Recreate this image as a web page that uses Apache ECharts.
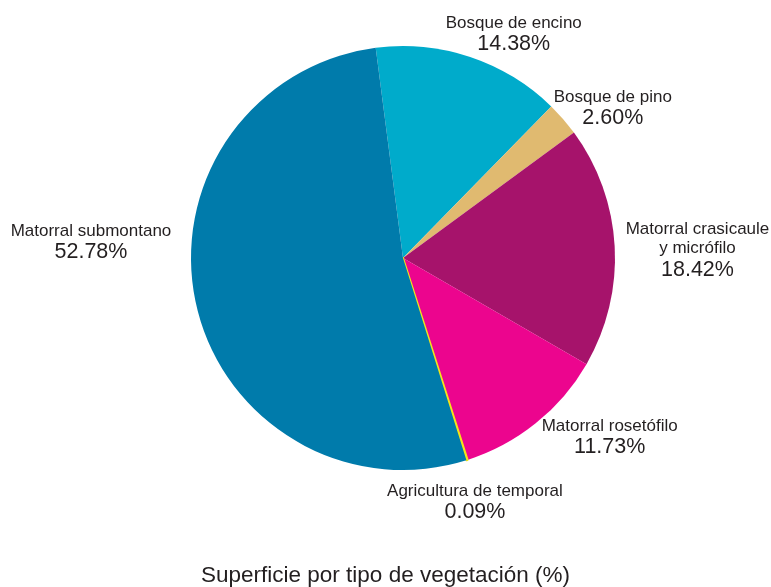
<!DOCTYPE html>
<html>
<head>
<meta charset="utf-8">
<script src="https://cdn.jsdelivr.net/npm/echarts@6/dist/echarts.min.js"></script>
<style>
    html, body { margin: 0; padding: 0; background: #fff; }
    #echt-pie { width: 771px; height: 587px; }
</style>
</head>
<body>
<div id="echt-pie"></div>
<script>
// 数据
var category_names = [
    'Bosque de encino',
    'Bosque de pino',
    'Matorral crasicaule\ny micrófilo',
    'Matorral rosetófilo',
    'Agricultura de temporal',
    'Matorral submontano'
];
var category_values = [14.38, 2.60, 18.42, 11.73, 0.09, 52.78];
var category_colors = ['#00abcb', '#e0ba70', '#a6136b', '#ec058e', '#f2e51a', '#007bab'];
var chart_title = 'Superficie por tipo de vegetación (%)';

var Page = {

    font: "'Liberation Sans', Arial, sans-serif",
    text_color: '#231f20',

    pie_center: [403, 258],
    pie_radius: 212,
    start_angle: 97.4,
    label_gap: 15,

    /* 标签微调 (相对于径向位置) */
    label_offsets: [[32, 12], [15, 20], [-4, 9], [48, -17], [-3, 8], [-10, -82]],

    init: function () {
        this.draw_chart();
    },

    // 扇区中间角度 (度, 从顶部顺时针)
    mid_angle: function (idx) {
        var total = 0, before = 0;
        for (var i = 0; i < category_values.length; i++) {
            total += category_values[i];
            if (i < idx) before += category_values[i];
        }
        var a0 = 90 - this.start_angle;
        return a0 + (before + category_values[idx] / 2) / total * 360;
    },

    draw_chart: function () {
        var that = this;
        var my_chart = echarts.init(document.getElementById('echt-pie'));

        var series_data = [];
        for (var j = 0; j < category_names.length; j++) {
            var item = {
                name: category_names[j],
                value: category_values[j],
                itemStyle: { color: category_colors[j] }
            };
            if (category_values[j] < 1) {
                item.itemStyle.borderColor = category_colors[j];
                item.itemStyle.borderWidth = 2;
            }
            series_data.push(item);
        }

        var option = {
            animation: false,
            title: {
                text: chart_title,
                left: 'center',
                top: 559,
                textStyle: {
                    fontFamily: that.font,
                    fontSize: 22.5,
                    fontWeight: 'normal',
                    color: that.text_color
                }
            },
            series: [{
                type: 'pie',
                center: that.pie_center,
                radius: that.pie_radius,
                startAngle: that.start_angle,
                clockwise: true,
                avoidLabelOverlap: false,
                silent: true,
                data: series_data,
                label: {
                    show: true,
                    position: 'outside',
                    align: 'center',
                    formatter: function (p) {
                        var lines = p.name.split('\n');
                        var s = '';
                        for (var k = 0; k < lines.length; k++) {
                            s += '{n|' + lines[k] + '}\n';
                        }
                        return s + '{p|' + p.value.toFixed(2) + '%}';
                    },
                    rich: {
                        n: { fontFamily: that.font, fontSize: 17, lineHeight: 19, color: that.text_color, align: 'center' },
                        p: { fontFamily: that.font, fontSize: 21.5, lineHeight: 23, color: that.text_color, align: 'center' }
                    }
                },
                labelLine: { show: false },
                labelLayout: function (params) {
                    var ang = that.mid_angle(params.dataIndex) * Math.PI / 180;
                    var dx = Math.sin(ang), dy = -Math.cos(ang);
                    var w = params.labelRect.width, h = params.labelRect.height;
                    var bx = Math.abs(dx) > 1e-6 ? w / 2 / Math.abs(dx) : 1e9;
                    var by = Math.abs(dy) > 1e-6 ? h / 2 / Math.abs(dy) : 1e9;
                    var d = that.pie_radius + that.label_gap + Math.min(bx, by);
                    var off = that.label_offsets[params.dataIndex];
                    return {
                        x: that.pie_center[0] + dx * d + off[0],
                        y: that.pie_center[1] + dy * d + off[1],
                        align: 'center',
                        verticalAlign: 'middle'
                    };
                }
            }]
        };

        my_chart.setOption(option);
    }
};

Page.init();
</script>
</body>
</html>
